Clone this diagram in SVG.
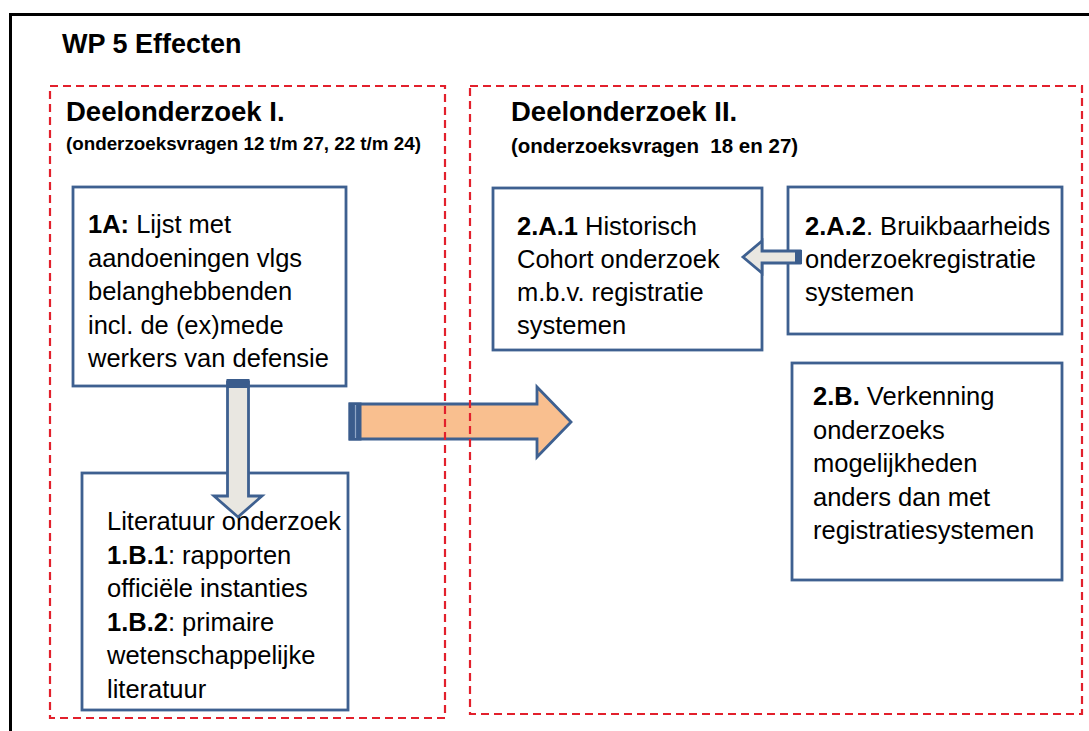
<svg xmlns="http://www.w3.org/2000/svg" width="1089" height="731" viewBox="0 0 1089 731">
<style>
text{font-family:"Liberation Sans",Arial,sans-serif;fill:#000}
.b{font-weight:bold}
.t{font-size:25.5px}
.box{fill:#fff;stroke:#3e6090;stroke-width:2.8}
.dash{fill:none;stroke:#e2202c;stroke-width:2.2;stroke-dasharray:8 5}
.arr{stroke:#3e6090;stroke-width:2.8;stroke-linejoin:miter}
.cap{fill:#3a5c8c}
</style>
<rect x="0" y="0" width="1089" height="731" fill="#fff"/>
<rect x="10.5" y="14.5" width="1100" height="730" fill="none" stroke="#000" stroke-width="3"/>
<text class="b" x="62" y="53" font-size="27">WP 5 Effecten</text>

<g id="node-1A">
<rect class="box" x="73" y="187" width="273" height="199"/>
<text class="t" x="88"><tspan y="233"><tspan class="b">1A:</tspan> Lijst met</tspan><tspan x="88" y="266.5">aandoeningen vlgs</tspan><tspan x="88" y="300">belanghebbenden</tspan><tspan x="88" y="333.5">incl. de (ex)mede</tspan><tspan x="88" y="367">werkers van defensie</tspan></text>
</g>

<g id="node-1B">
<rect class="box" x="82" y="473" width="266" height="237"/>
<text class="t" x="107"><tspan y="530">Literatuur onderzoek</tspan><tspan x="107" y="563.5"><tspan class="b">1.B.1</tspan>: rapporten</tspan><tspan x="107" y="597">officiële instanties</tspan><tspan x="107" y="630.5"><tspan class="b">1.B.2</tspan>: primaire</tspan><tspan x="107" y="664">wetenschappelijke</tspan><tspan x="107" y="697.5">literatuur</tspan></text>
</g>

<g id="node-2A1">
<rect class="box" x="493" y="188" width="269" height="162"/>
<text class="t" x="517"><tspan y="235"><tspan class="b">2.A.1</tspan> Historisch</tspan><tspan x="517" y="268">Cohort onderzoek</tspan><tspan x="517" y="301">m.b.v. registratie</tspan><tspan x="517" y="334">systemen</tspan></text>
</g>

<g id="node-2A2">
<rect class="box" x="788" y="187" width="274" height="147"/>
<text class="t" x="805"><tspan y="235"><tspan class="b">2.A.2</tspan>. Bruikbaarheids</tspan><tspan x="805" y="268">onderzoekregistratie</tspan><tspan x="805" y="301">systemen</tspan></text>
</g>

<g id="node-2B">
<rect class="box" x="792" y="363" width="270" height="217"/>
<text class="t" x="813"><tspan y="405"><tspan class="b">2.B.</tspan> Verkenning</tspan><tspan x="813" y="438.5">onderzoeks</tspan><tspan x="813" y="472">mogelijkheden</tspan><tspan x="813" y="505.5">anders dan met</tspan><tspan x="813" y="539">registratiesystemen</tspan></text>
</g>

<g id="connectors">
<polygon class="arr" fill="#e9e7e1" points="227.5,382 248.5,382 248.5,496 262,496 238,517 214,496 227.5,496"/>
<rect class="cap" x="226.5" y="379" width="23" height="9"/>
<polygon class="arr" fill="#e9e7e1" points="800,251 762,251 762,241 743,257 762,273 762,263 800,263"/>
<rect class="cap" x="795" y="250" width="7" height="14"/>
<polygon class="arr" fill="#f9bf8f" points="350,404 537,404 537,387 571,422 537,457 537,439 350,439"/>
<rect class="cap" x="348.5" y="402.5" width="13" height="38"/>
<line x1="355.5" y1="405" x2="355.5" y2="438" stroke="#8fa6c6" stroke-width="1.2"/>
</g>

<g id="group-I">
<rect class="dash" x="50" y="86" width="395" height="632"/>
<text class="b" x="66" y="121" font-size="27.5">Deelonderzoek I.</text>
<text class="b" x="66" y="150" font-size="18.8">(onderzoeksvragen 12 t/m 27, 22 t/m 24)</text>
</g>

<g id="group-II">
<rect class="dash" x="470" y="86" width="612" height="628"/>
<text class="b" x="511" y="121" font-size="27.5">Deelonderzoek II.</text>
<text class="b" x="511" y="153" font-size="20.5" xml:space="preserve">(onderzoeksvragen  18 en 27)</text>
</g>
</svg>
